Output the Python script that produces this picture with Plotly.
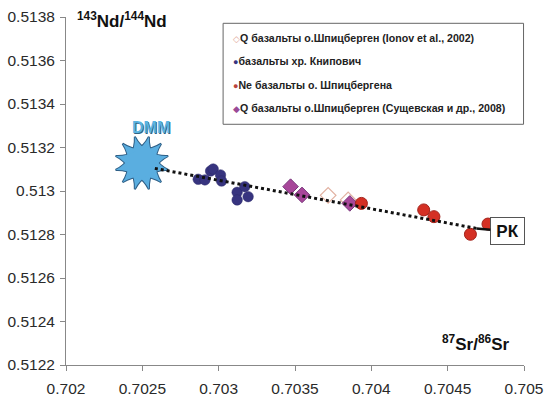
import plotly.graph_objects as go

# ---------------- data ----------------
ionov_x = [0.703717, 0.703848]
ionov_y = [0.512980, 0.512959]

knipovich_x = [0.702866, 0.702910, 0.702947, 0.702964, 0.703012,
               0.703019, 0.703121, 0.703171, 0.703121, 0.703193]
knipovich_y = [0.513054, 0.513051, 0.513092, 0.513101, 0.513074,
               0.513046, 0.512994, 0.513020, 0.512959, 0.512974]

ne_x = [0.703935, 0.704343, 0.704410, 0.704649, 0.704764]
ne_y = [0.512943, 0.512913, 0.512882, 0.512801, 0.512848]

sush_x = [0.703471, 0.703546, 0.703859]
sush_y = [0.513020, 0.512982, 0.512943]

dmm_x = [0.702497]
dmm_y = [0.513129]

trend_x = [0.702582, 0.704688]
trend_y = [0.513104, 0.512828]

pk_x = 0.704688
pk_y = 0.512828

x_ticks = [0.702, 0.7025, 0.703, 0.7035, 0.704, 0.7045, 0.705]
x_labels = ["0.702", "0.7025", "0.703", "0.7035", "0.704", "0.7045", "0.705"]
y_ticks = [0.5122, 0.5124, 0.5126, 0.5128, 0.513, 0.5132, 0.5134, 0.5136, 0.5138]
y_labels = ["0.5122", "0.5124", "0.5126", "0.5128", "0.513", "0.5132", "0.5134", "0.5136", "0.5138"]

legend_names = [
    "Q базальты о.Шпицберген (Ionov et al., 2002)",
    "базальты хр. Книпович",
    "Ne базальты о. Шпицбергена",
    "Q базальты о.Шпицберген (Сущевская и др., 2008)",
]

FONT = "Arial, Liberation Sans, sans-serif"

fig = go.Figure()

# DMM burst: outline layer then fill layer
STAR = 35
for a in [0, 30, 60]:
    fig.add_trace(go.Scatter(x=dmm_x, y=dmm_y, mode="markers", showlegend=False, hoverinfo="skip",
                             marker=dict(symbol="star-square", size=STAR, angle=a, color="#5aaee0",
                                         line=dict(color="#2f5f86", width=2))))
for a in [0, 30, 60]:
    fig.add_trace(go.Scatter(x=dmm_x, y=dmm_y, mode="markers", showlegend=False, hoverinfo="skip",
                             marker=dict(symbol="star-square", size=STAR, angle=a, color="#5aaee0",
                                         line=dict(width=0))))

fig.add_trace(go.Scatter(x=knipovich_x, y=knipovich_y, mode="markers", name=legend_names[1],
                         showlegend=False,
                         marker=dict(symbol="circle", size=10.5, color="#37347f",
                                     line=dict(color="#2c2a6a", width=0.5))))
fig.add_trace(go.Scatter(x=ionov_x, y=ionov_y, mode="markers", name=legend_names[0],
                         showlegend=False,
                         marker=dict(symbol="diamond", size=12, color="#ffffff",
                                     line=dict(color="#e2b2a2", width=1.2))))
fig.add_trace(go.Scatter(x=sush_x, y=sush_y, mode="markers", name=legend_names[3],
                         showlegend=False,
                         marker=dict(symbol="diamond", size=12, color="#a8479a",
                                     line=dict(color="#7a3a7e", width=1))))
fig.add_trace(go.Scatter(x=ne_x, y=ne_y, mode="markers", name=legend_names[2],
                         showlegend=False,
                         marker=dict(symbol="circle", size=12, color="#d43024",
                                     line=dict(color="#a3221a", width=1))))

fig.add_trace(go.Scatter(x=trend_x, y=trend_y, mode="lines", showlegend=False, hoverinfo="skip",
                         line=dict(color="#111111", width=3, dash="dot")))

# PK label with short connector
fig.add_annotation(x=pk_x, y=pk_y, xref="x", yref="y", text="<b>РК</b>",
                   showarrow=True, arrowhead=0, arrowwidth=2.5, arrowcolor="#111111",
                   ax=31, ay=3, font=dict(family=FONT, size=17, color="#111111"),
                   bordercolor="#555555", borderwidth=1, borderpad=4, bgcolor="white",
                   width=25, height=18)

# DMM text
fig.add_annotation(x=dmm_x[0], y=dmm_y[0], xref="x", yref="y", text="<b>DMM</b>",
                   showarrow=False, yshift=35, xshift=9,
                   font=dict(family=FONT, size=16, color="#5ab4e2",
                             shadow="1px 1px 0px #2f6486"))

# Axis titles
fig.add_annotation(x=0.0196, y=0.991, xref="paper", yref="paper", xanchor="left", yanchor="middle",
                   text="<b><sup>143</sup>Nd/<sup>144</sup>Nd</b>", showarrow=False,
                   font=dict(family=FONT, size=17, color="#111111"))
fig.add_annotation(x=0.9727, y=0.063, xref="paper", yref="paper", xanchor="right", yanchor="middle",
                   text="<b><sup>87</sup>Sr/<sup>86</sup>Sr</b>", showarrow=False,
                   font=dict(family=FONT, size=17, color="#111111"))

# Manual legend
fig.add_shape(type="rect", xref="paper", yref="paper", x0=0.343, x1=0.999, y0=0.6917, y1=0.9819,
              line=dict(color="#666666", width=1), fillcolor="white", layer="above")
legend_marks = [
    ('<span style="color:#e2a896;font-size:9px">◇</span>'),
    ('<span style="color:#37347f;font-size:9px">●</span>'),
    ('<span style="color:#b9443c;font-size:9px">●</span>'),
    ('<span style="color:#9a4a96;font-size:9px">◆</span>'),
]
legend_rows_y = [0.9388, 0.8736, 0.8046, 0.7376]
for mark, name, ry in zip(legend_marks, legend_names, legend_rows_y):
    fig.add_annotation(x=0.3600, y=ry, xref="paper", yref="paper", xanchor="left", yanchor="middle",
                       text=mark + "<b>" + name + "</b>", showarrow=False,
                       font=dict(family=FONT, size=10.6, color="#222222"))

axis_common = dict(showgrid=False, zeroline=False, showline=True, linecolor="#888888", linewidth=1,
                   ticks="outside", ticklen=5, tickcolor="#888888", automargin=False,
                   tickfont=dict(family=FONT, size=15.5, color="#2a2a2a"))

fig.update_layout(
    width=548, height=399,
    margin=dict(l=66, r=23.5, t=17, b=34),
    paper_bgcolor="white", plot_bgcolor="white",
    showlegend=False,
    xaxis=dict(range=[0.702, 0.705], tickvals=x_ticks, ticktext=x_labels,
               ticklabelstandoff=4, **axis_common),
    yaxis=dict(range=[0.5122, 0.5138], tickvals=y_ticks, ticktext=y_labels,
               ticklabelstandoff=2, **axis_common),
)

fig.write_html("out.html", config={"displayModeBar": False},
               post_script="document.body.style.margin='0';document.body.style.overflow='hidden';")
